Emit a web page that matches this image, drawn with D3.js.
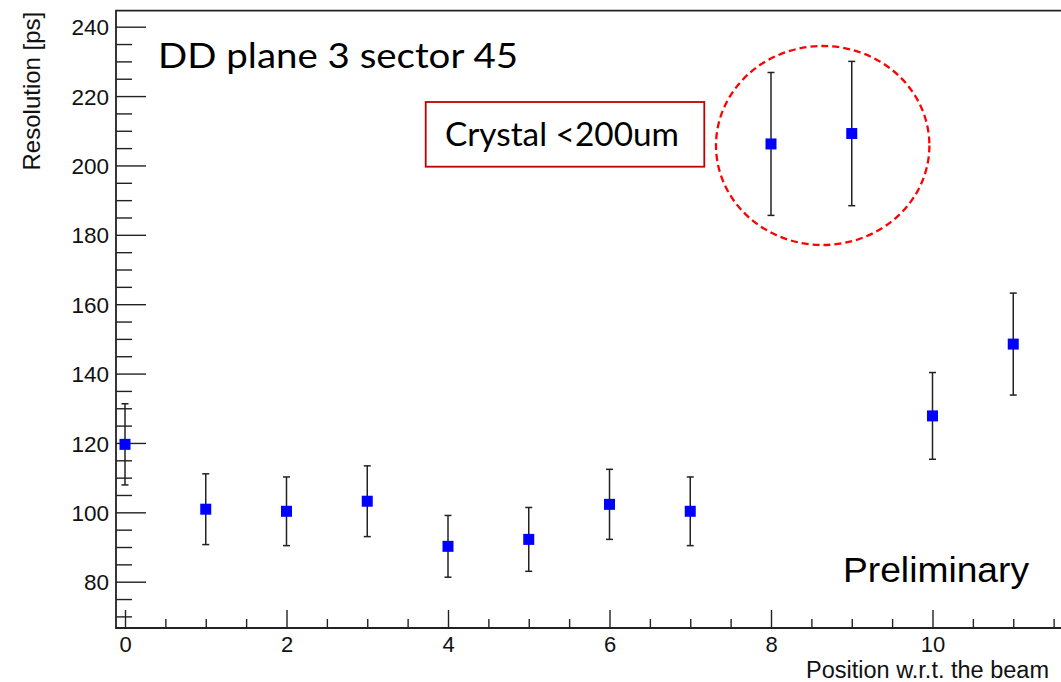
<!DOCTYPE html>
<html>
<head>
<meta charset="utf-8">
<script src="https://cdn.jsdelivr.net/npm/d3@7"></script>
<style>
  html, body { margin: 0; padding: 0; background: #fff; }
  svg { display: block; }
</style>
</head>
<body>
<div id="chart"></div>
<script>
/* data */
var positions = [0, 1, 2, 3, 4, 5, 6, 7, 8, 9, 10, 11]
var resolution = [119.6, 100.9, 100.3, 103.2, 90.2, 92.2, 102.3, 100.3, 206.2, 209.2, 127.8, 148.5]
var resolutionErr = [11.7, 10.2, 9.9, 10.2, 8.9, 9.2, 10.1, 9.9, 20.6, 20.8, 12.5, 14.7]
var xTicks = [0, 2, 4, 6, 8, 10]
var yTicks = [80, 100, 120, 140, 160, 180, 200, 220, 240]

var W = 1061, H = 682
var frame = { left: 116, top: 10.7, bottom: 628, right: 1100 }

var svg = d3.select("#chart").append("svg")
    .attr("width", W)
    .attr("height", H)

var x = d3.scaleLinear()
    .domain([(frame.left - 125) / 80.75, (frame.right - 125) / 80.75])
    .range([frame.left, frame.right])

var y = d3.scaleLinear()
    .domain([80 - (frame.bottom - 581.7) / 3.469, 240 + (26.7 - frame.top) / 3.469])
    .range([frame.bottom, frame.top])

var axisFont = "'Liberation Sans', Arial, Helvetica, sans-serif"
var slideFont = "Lato, 'Open Sans', sans-serif"

/* x axis: ticks point up, labels below */
var xAxis = svg.append("g")
    .attr("transform", "translate(0," + frame.bottom + ")")
    .call(d3.axisBottom(x).tickValues(d3.range(0, 12.5, 0.5)).tickSize(0).tickFormat(""))
xAxis.select(".domain").remove()
xAxis.selectAll(".tick line")
    .attr("y2", function (d) { return d % 2 === 0 ? -18 : -9 })
    .attr("stroke", "#222")
    .attr("stroke-width", 1.4)
xAxis.selectAll(".tick text")
    .filter(function (d) { return xTicks.indexOf(d) < 0 })
    .remove()
xAxis.selectAll(".tick text")
    .text(function (d) { return d })
    .attr("y", 24)
    .attr("dy", 0)
    .attr("fill", "#111")
    .style("font-family", axisFont)
    .style("font-size", "22px")

/* y axis: ticks point right, labels left */
var yAxis = svg.append("g")
    .attr("transform", "translate(" + frame.left + ",0)")
    .call(d3.axisLeft(y).tickValues(d3.range(70, 241, 5)).tickSize(0).tickFormat(""))
yAxis.select(".domain").remove()
yAxis.selectAll(".tick line")
    .attr("x2", function (d) { return d % 20 === 0 ? 30 : 16 })
    .attr("stroke", "#222")
    .attr("stroke-width", 1.4)
yAxis.selectAll(".tick text")
    .filter(function (d) { return yTicks.indexOf(d) < 0 })
    .remove()
yAxis.selectAll(".tick text")
    .text(function (d) { return d })
    .attr("x", -7)
    .attr("dy", "0.36em")
    .attr("fill", "#111")
    .style("font-family", axisFont)
    .style("font-size", "22.5px")

/* frame lines */
svg.append("path")
    .attr("d", "M" + frame.right + "," + frame.top + "H" + frame.left + "V" + frame.bottom + "H" + frame.right)
    .attr("fill", "none")
    .attr("stroke", "#222")
    .attr("stroke-width", 1.8)

/* axis titles */
svg.append("text")
    .attr("transform", "translate(40," + 11.7 + ") rotate(-90)")
    .attr("text-anchor", "end")
    .style("font-family", axisFont)
    .style("font-size", "24px")
    .attr("fill", "#111")
    .text("Resolution [ps]")

svg.append("text")
    .attr("x", 806)
    .attr("y", 678)
    .style("font-family", axisFont)
    .style("font-size", "23.5px")
    .attr("fill", "#111")
    .text("Position w.r.t. the beam")

/* error bars */
var pts = positions.map(function (p, i) {
  return { x: p, y: resolution[i], e: resolutionErr[i] }
})
var ms = 11, cap = 3.5

var eb = svg.append("g").attr("stroke", "#222").attr("stroke-width", 1.5)
pts.forEach(function (d) {
  var cx = x(d.x)
  eb.append("line").attr("x1", cx).attr("x2", cx).attr("y1", y(d.y + d.e)).attr("y2", y(d.y - d.e))
  eb.append("line").attr("x1", cx - cap).attr("x2", cx + cap).attr("y1", y(d.y + d.e)).attr("y2", y(d.y + d.e))
  eb.append("line").attr("x1", cx - cap).attr("x2", cx + cap).attr("y1", y(d.y - d.e)).attr("y2", y(d.y - d.e))
})

/* markers */
svg.selectAll("rect.marker")
    .data(pts)
    .enter()
    .append("rect")
    .attr("class", "marker")
    .attr("x", function (d) { return x(d.x) - ms / 2 })
    .attr("y", function (d) { return y(d.y) - ms / 2 })
    .attr("width", ms)
    .attr("height", ms)
    .attr("fill", "#0000ff")

/* slide annotations */
svg.append("text")
    .attr("x", 158)
    .attr("y", 67.7)
    .attr("textLength", 360)
    .attr("lengthAdjust", "spacingAndGlyphs")
    .style("font-family", slideFont)
    .style("font-size", "34px")
    .attr("fill", "#000")
    .text("DD plane 3 sector 45")

svg.append("rect")
    .attr("x", 425.7)
    .attr("y", 102)
    .attr("width", 278.6)
    .attr("height", 64.7)
    .attr("fill", "#fff")
    .attr("stroke", "#c00000")
    .attr("stroke-width", 1.8)

svg.append("text")
    .attr("x", 445)
    .attr("y", 145.7)
    .attr("textLength", 234)
    .attr("lengthAdjust", "spacingAndGlyphs")
    .style("font-family", slideFont)
    .style("font-size", "32px")
    .attr("fill", "#000")
    .text("Crystal <200um")

svg.append("ellipse")
    .attr("cx", 822.7)
    .attr("cy", 145.5)
    .attr("rx", 106.7)
    .attr("ry", 99.5)
    .attr("fill", "none")
    .attr("stroke", "#ff0000")
    .attr("stroke-width", 2.3)
    .attr("stroke-dasharray", "7,4")

svg.append("text")
    .attr("x", 843)
    .attr("y", 582.3)
    .attr("textLength", 186)
    .attr("lengthAdjust", "spacingAndGlyphs")
    .style("font-family", axisFont)
    .style("font-size", "35px")
    .attr("fill", "#000")
    .text("Preliminary")
</script>
</body>
</html>
